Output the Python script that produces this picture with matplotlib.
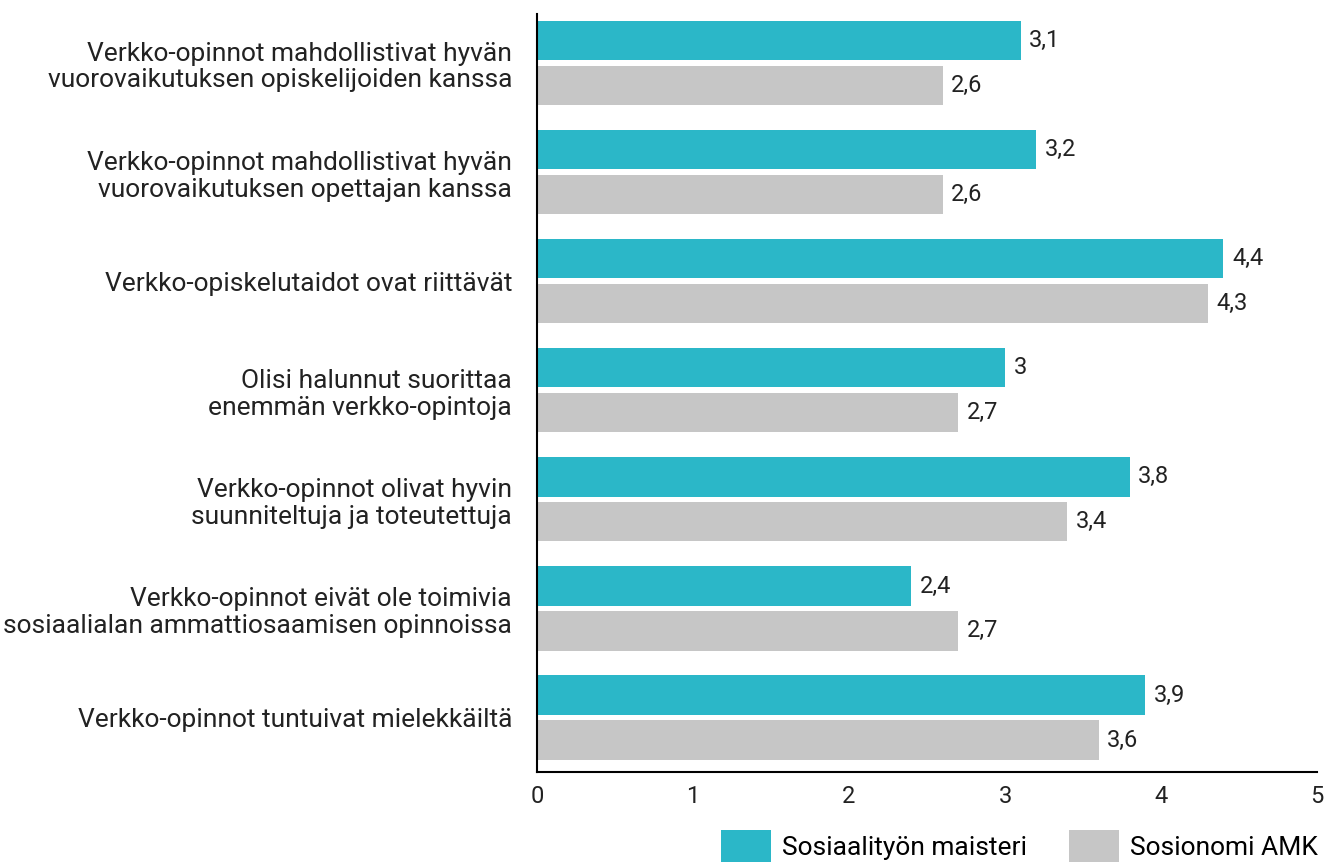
import numpy as np
import matplotlib.pyplot as plt

plt.rcParams['font.family'] = ['Roboto', 'DejaVu Sans']

categories = [
    "Verkko-opinnot mahdollistivat hyvän\nvuorovaikutuksen opiskelijoiden kanssa",
    "Verkko-opinnot mahdollistivat hyvän\nvuorovaikutuksen opettajan kanssa",
    "Verkko-opiskelutaidot ovat riittävät",
    "Olisi halunnut suorittaa\nenemmän verkko-opintoja",
    "Verkko-opinnot olivat hyvin\nsuunniteltuja ja toteutettuja",
    "Verkko-opinnot eivät ole toimivia\nsosiaalialan ammattiosaamisen opinnoissa",
    "Verkko-opinnot tuntuivat mielekkäiltä",
]
maisteri = [3.1, 3.2, 4.4, 3.0, 3.8, 2.4, 3.9]
amk = [2.6, 2.6, 4.3, 2.7, 3.4, 2.7, 3.6]
series_names = ["Sosiaalityön maisteri", "Sosionomi AMK"]

teal = '#2BB7C8'
grey = '#C6C6C6'

def fmt(v):
    s = f"{v:g}"
    return s.replace('.', ',')

fig = plt.figure(figsize=(13.28, 8.66), dpi=100)
ax = fig.add_axes([0.4044, 0.1085, 0.5873, 0.8753])

y = np.arange(len(categories))
h = 0.36
off = 0.206
b1 = ax.barh(y - off, maisteri, height=h, color=teal, label=series_names[0])
b2 = ax.barh(y + off, amk, height=h, color=grey, label=series_names[1])

for bars, vals in ((b1, maisteri), (b2, amk)):
    for bar, v in zip(bars, vals):
        ax.text(bar.get_width() + 0.055, bar.get_y() + bar.get_height() / 2,
                fmt(v), va='center', ha='left', fontsize=17, color='#222222')

ax.set_xlim(0, 5)
ax.set_ylim(6.5, -0.45)
ax.set_yticks(y)
ax.set_yticklabels(categories, fontsize=19, color='#222222', linespacing=1.15)
ax.set_xticks([0, 1, 2, 3, 4, 5])
ax.tick_params(axis='both', length=0)
ax.tick_params(axis='y', pad=18)
ax.tick_params(axis='x', pad=9, labelsize=17, labelcolor='#222222')
for s in ['top', 'right']:
    ax.spines[s].set_visible(False)
ax.spines['left'].set_linewidth(1.5)
ax.spines['bottom'].set_linewidth(1.5)

leg = fig.legend(handles=[b1, b2], loc='lower right', bbox_to_anchor=(1.008, -0.02),
                 ncol=2, frameon=False, fontsize=19, handlelength=1.9, handleheight=1.5,
                 columnspacing=1.6, handletextpad=0.4, borderpad=0.3)

fig.savefig('out.png', dpi=100)
